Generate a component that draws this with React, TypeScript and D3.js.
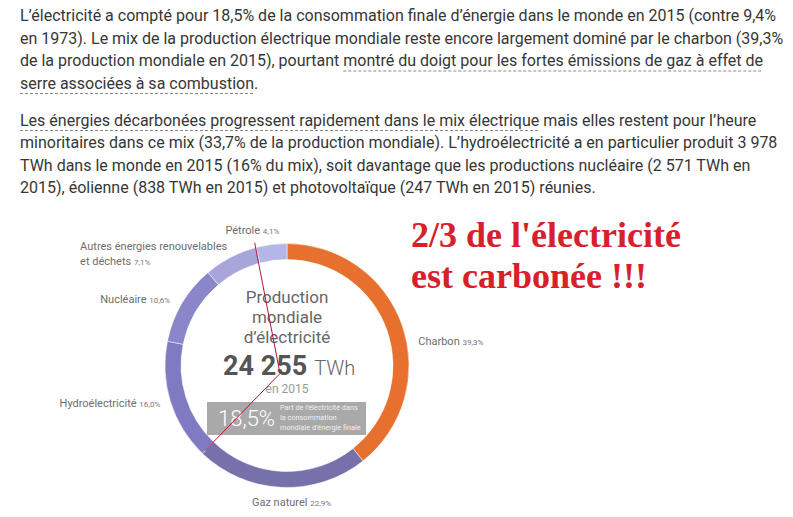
import React, { useEffect, useRef } from "react";
import * as d3 from "d3";

// ---- data ----
const categories = ["Charbon", "Gaz naturel", "Hydroélectricité", "Nucléaire", "Autres énergies renouvelables|et déchets", "Pétrole"];
const shares = [39.3, 22.9, 16.0, 10.6, 7.1, 4.1];
const shareLabels = ["39,3%", "22,9%", "16,0%", "10,6%", "7,1%", "4,1%"];
const colors = ["#e8702f", "#7670ab", "#7f7ac2", "#8a86c9", "#a7a5da", "#b6b5e8"];
const centerTitle = ["Production", "mondiale", "d’électricité"];
const totalValue = "24 255";
const totalUnit = "TWh";
const yearLabel = "en 2015";
const shareOfFinal = "18,5%";
const shareOfFinalText = ["Part de l’électricité dans", "la consommation", "mondiale d’énergie finale"];
const headline = ["2/3 de l'électricité", "est carbonée !!!"];
const paragraph1: [string, boolean][][] = [
  [["L’électricité a compté pour 18,5% de la consommation finale d’énergie dans le monde en 2015 (contre 9,4%", false]],
  [["en 1973). Le mix de la production électrique mondiale reste encore largement dominé par le charbon (39,3%", false]],
  [["de la production mondiale en 2015), pourtant ", false], ["montré du doigt pour les fortes émissions de gaz à effet de", true]],
  [["serre associées à sa combustion", true], [".", false]],
];
const paragraph2: [string, boolean][][] = [
  [["Les énergies décarbonées progressent rapidement dans le mix électrique", true], [" mais elles restent pour l’heure", false]],
  [["minoritaires dans ce mix (33,7% de la production mondiale). L’hydroélectricité a en particulier produit 3 978", false]],
  [["TWh dans le monde en 2015 (16% du mix), soit davantage que les productions nucléaire (2 571 TWh en", false]],
  [["2015), éolienne (838 TWh en 2015) et photovoltaïque (247 TWh en 2015) réunies.", false]],
];
// start of the decarbonised part (after gas) and its end (before oil)
const carbonBoundaries = ["Gaz naturel", "Pétrole"];

const W = 793, H = 517;

export default function App() {
  const ref = useRef<SVGSVGElement>(null);
  useEffect(() => {
    document.body.style.margin = "0";
    const svg = d3.select(ref.current);
    svg.selectAll("*").remove();
    const font = "Roboto, 'Noto Sans', sans-serif";

    // paragraphs
    const drawPara = (lines: [string, boolean][][], y0: number) => {
      lines.forEach((segs, i) => {
        const t = svg.append("text").attr("x", 20).attr("y", y0 + i * 22.5)
          .attr("font-family", font).attr("font-size", 16).attr("fill", "#363636");
        const spans = segs.map(([s, u]) => ({ node: t.append("tspan").text(s).node() as SVGTSpanElement, u }));
        spans.forEach(({ node, u }) => {
          if (!u) return;
          const x0 = node.getStartPositionOfChar(0).x;
          const len = node.getComputedTextLength();
          svg.append("line").attr("x1", x0).attr("x2", x0 + len)
            .attr("y1", y0 + i * 22.5 + 5).attr("y2", y0 + i * 22.5 + 5)
            .attr("stroke", "#8a8a8a").attr("stroke-width", 1).attr("stroke-dasharray", "3,2");
        });
      });
    };
    drawPara(paragraph1, 21);
    drawPara(paragraph2, 125.5);

    // donut
    const cx = 287, cy = 365.5, rOuter = 122, rInner = 106;
    const g = svg.append("g").attr("transform", `translate(${cx},${cy})`);
    const data = categories.map((c, i) => ({ c, v: shares[i], l: shareLabels[i], col: colors[i] }));
    const pie = d3.pie<any>().value((d) => d.v).sort(null);
    const arcs = pie(data);
    const arc = d3.arc<any>().innerRadius(rInner).outerRadius(rOuter);
    g.selectAll("path").data(arcs).enter().append("path")
      .attr("d", arc as any).attr("fill", (d: any) => d.data.col)
      .attr("stroke", "#fff").attr("stroke-width", 0.5);

    // labels
    const tweak: Record<string, { dx: number; dy: number; anchor: string }> = {
      "Charbon": { dx: 1, dy: 25, anchor: "start" },
      "Gaz naturel": { dx: 11, dy: 3, anchor: "middle" },
      "Hydroélectricité": { dx: 5, dy: 1, anchor: "end" },
      "Nucléaire": { dx: 2, dy: 8, anchor: "end" },
      "Autres énergies renouvelables|et déchets": { dx: 4, dy: 7, anchor: "end" },
      "Pétrole": { dx: 10, dy: 5, anchor: "end" },
    };
    const R = 138;
    arcs.forEach((a: any) => {
      const mid = (a.startAngle + a.endAngle) / 2;
      const tw = tweak[a.data.c];
      const x = R * Math.sin(mid) + tw.dx;
      const y = -R * Math.cos(mid) + tw.dy;
      const parts = a.data.c.split("|");
      if (parts.length === 1) {
        const t = g.append("text").attr("x", x).attr("y", y).attr("text-anchor", tw.anchor)
          .attr("font-family", font).attr("fill", "#6e6e6e");
        t.append("tspan").attr("font-size", 11).text(parts[0] + " ");
        t.append("tspan").attr("font-size", 8).attr("fill", "#777").text(a.data.l);
      } else {
        const t1 = g.append("text").attr("x", x).attr("y", y).attr("text-anchor", "end")
          .attr("font-family", font).attr("font-size", 11).attr("fill", "#6e6e6e").text(parts[0]);
        const bb = (t1.node() as SVGTextElement).getBBox();
        const t2 = g.append("text").attr("x", bb.x).attr("y", y + 14.5)
          .attr("font-family", font).attr("fill", "#6e6e6e");
        t2.append("tspan").attr("font-size", 11).text(parts[1] + " ");
        t2.append("tspan").attr("font-size", 8).attr("fill", "#777").text(a.data.l);
      }
    });

    // center text
    centerTitle.forEach((s, i) => {
      g.append("text").attr("x", 0).attr("y", -62.5 + i * 20).attr("text-anchor", "middle")
        .attr("font-family", font).attr("font-size", 17).attr("fill", "#666").text(s);
    });
    const tv = g.append("text").attr("x", -64).attr("y", 9.5).attr("font-family", font).attr("fill", "#555");
    tv.append("tspan").attr("font-size", 27).attr("font-weight", 700).text(totalValue);
    tv.append("tspan").attr("font-size", 20).attr("font-weight", 300).attr("fill", "#666").attr("dx", 7).text(totalUnit);
    g.append("text").attr("x", 0).attr("y", 27.5).attr("text-anchor", "middle")
      .attr("font-family", font).attr("font-size", 12).attr("fill", "#9a9a9a").text(yearLabel);
    g.append("rect").attr("x", -80).attr("y", 36.5).attr("width", 159).attr("height", 33).attr("fill", "#a9a9a9");
    g.append("text").attr("x", -69).attr("y", 60).attr("font-family", font).attr("font-size", 22)
      .attr("font-weight", 300).attr("fill", "#fff").text(shareOfFinal);
    shareOfFinalText.forEach((s, i) => {
      g.append("text").attr("x", -7).attr("y", 44 + i * 10).attr("font-family", font)
        .attr("font-size", 7.3).attr("fill", "#f0f0f0").text(s);
    });

    // red annotation lines: from oil start to centre to gas end
    const byName = (n: string) => arcs.find((a: any) => a.data.c === n) as any;
    const aStart = byName(carbonBoundaries[1]).startAngle;
    const aEnd = byName(carbonBoundaries[0]).endAngle;
    const p1 = [127 * Math.sin(aStart), -127 * Math.cos(aStart)];
    const pm = [-7, 8];
    const p2 = [118 * Math.sin(aEnd), -118 * Math.cos(aEnd)];
    g.append("path").attr("d", d3.line()([p1 as any, pm as any, p2 as any]))
      .attr("fill", "none").attr("stroke", "#b5143a").attr("stroke-width", 1);

    // headline
    headline.forEach((s, i) => {
      svg.append("text").attr("x", 411).attr("y", 247 + i * 41)
        .attr("font-family", "'Liberation Serif', 'Times New Roman', serif").attr("font-weight", 700)
        .attr("font-size", 36).attr("fill", "#d8202a").text(s);
    });
  }, []);
  return <svg ref={ref} width={W} height={H} style={{ display: "block", background: "#fff" }} />;
}
